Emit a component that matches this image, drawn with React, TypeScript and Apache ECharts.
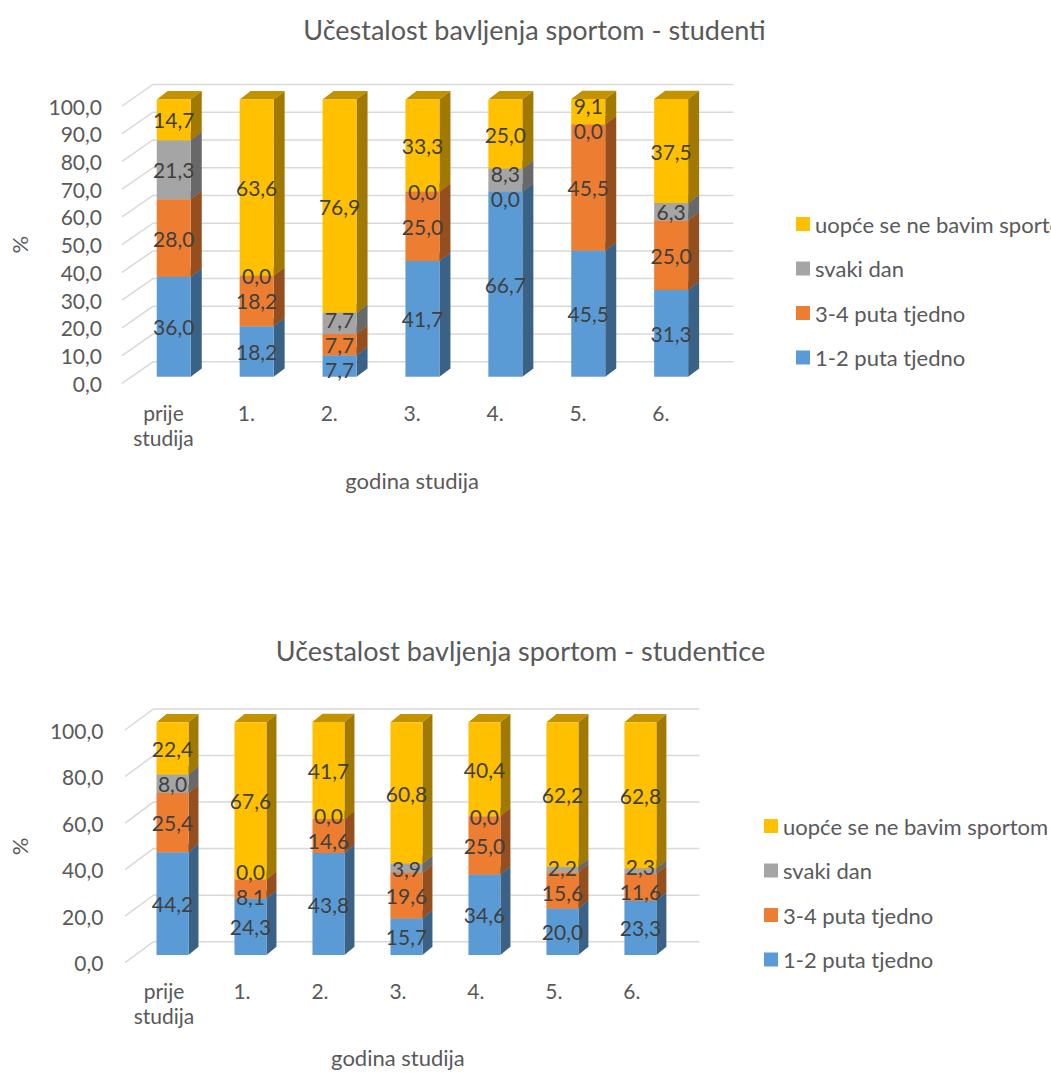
import React, { useEffect, useRef } from "react";
import * as echarts from "echarts";

const CATEGORIES = ["prije\nstudija", "1.", "2.", "3.", "4.", "5.", "6."];
const SERIES_NAMES = ["1-2 puta tjedno", "3-4 puta tjedno", "svaki dan", "uopće se ne bavim sportom"];
const COLORS = ["#5b9bd5", "#ed7d31", "#a5a5a5", "#ffc000"];

// studenti
const M_1_2 = [36.0, 18.2, 7.7, 41.7, 66.7, 45.5, 31.3];
const M_3_4 = [28.0, 18.2, 7.7, 25.0, 0.0, 45.5, 25.0];
const M_DAILY = [21.3, 0.0, 7.7, 0.0, 8.3, 0.0, 6.3];
const M_NONE = [14.7, 63.6, 76.9, 33.3, 25.0, 9.1, 37.5];

// studentice
const F_1_2 = [44.2, 24.3, 43.8, 15.7, 34.6, 20.0, 23.3];
const F_3_4 = [25.4, 8.1, 14.6, 19.6, 25.0, 15.6, 11.6];
const F_DAILY = [8.0, 0.0, 0.0, 3.9, 0.0, 2.2, 2.3];
const F_NONE = [22.4, 67.6, 41.7, 60.8, 40.4, 62.2, 62.8];

const TICKS_TOP = [0, 10, 20, 30, 40, 50, 60, 70, 80, 90, 100];
const TICKS_BOTTOM = [0, 20, 40, 60, 80, 100];

const TITLE_TOP = "Učestalost bavljenja sportom - studenti";
const TITLE_BOTTOM = "Učestalost bavljenja sportom - studentice";
const X_NAME = "godina studija";
const Y_NAME = "%";

const FONT = "Lato, 'Noto Sans', sans-serif";
const TEXT_COLOR = "#595959";
const LABEL_COLOR = "#404040";

function fmt(v: number) {
  return Number(v).toFixed(1).replace(".", ",");
}

function shade(hex: string, f: number) {
  const n = parseInt(hex.slice(1), 16);
  const r = Math.round(((n >> 16) & 255) * f);
  const g = Math.round(((n >> 8) & 255) * f);
  const b = Math.round((n & 255) * f);
  return `rgb(${r},${g},${b})`;
}

type Geo = {
  barRatio: number;
  shiftX: number;
  shiftY: number;
  sideDx: number;
  sideDy: number;
  wallDx: number;
  wallDy: number;
};

const TOP_GEO: Geo = { barRatio: 0.41, shiftX: 10.3, shiftY: -6.6, sideDx: 11, sideDy: -8.3, wallDx: 31, wallDy: -21.5 };
const BOT_GEO: Geo = { barRatio: 0.41, shiftX: 8.5, shiftY: -7.7, sideDx: 10, sideDy: -8.3, wallDx: 28.5, wallDy: -21 };

function makeSeries(g: number, vals: number[][], ticks: number[], geo: Geo) {
  const series: any[] = [];
  series.push({
    type: "custom",
    name: "grid" + g,
    xAxisIndex: g,
    yAxisIndex: g,
    z: 1,
    silent: true,
    encode: { x: 0, y: 1 },
    data: ticks.map((t) => [0, t]),
    renderItem: (params: any, api: any) => {
      const cs = params.coordSys;
      const y = api.coord([0, api.value(1)])[1];
      const xl = cs.x;
      const xr = cs.x + cs.width;
      return {
        type: "polyline",
        shape: {
          points: [
            [xl, y],
            [xl + geo.wallDx, y + geo.wallDy],
            [xr + geo.wallDx, y + geo.wallDy],
          ],
        },
        style: { stroke: "#d9d9d9", lineWidth: 1.5, fill: null },
      };
    },
  });

  vals.forEach((arr, s) => {
    const data = arr.map((v, i) => {
      let base = 0;
      for (let k = 0; k < s; k++) base += vals[k][i];
      return [i, base, base + v, v];
    });
    const front = COLORS[s];
    const side = shade(COLORS[s], 0.63);
    const topc = shade(COLORS[s], 0.76);
    series.push({
      type: "custom",
      name: SERIES_NAMES[s],
      xAxisIndex: g,
      yAxisIndex: g,
      z: 2 + s,
      silent: true,
      itemStyle: { color: front },
      encode: { x: 0, y: [1, 2] },
      data,
      renderItem: (params: any, api: any) => {
        const cat = api.value(0);
        const b = api.value(1);
        const t = api.value(2);
        if (t - b <= 0) return { type: "group", children: [] };
        const band = api.size([1, 0])[0];
        const w = band * geo.barRatio;
        const pb = api.coord([cat, b]);
        const pt = api.coord([cat, t]);
        const x0 = pb[0] - w / 2 + geo.shiftX;
        const x1 = x0 + w;
        const yb = pb[1] + geo.shiftY;
        const yt = pt[1] + geo.shiftY;
        const dx = geo.sideDx;
        const dy = geo.sideDy;
        return {
          type: "group",
          children: [
            {
              type: "polygon",
              shape: { points: [[x0, yt], [x1, yt], [x1 + dx, yt + dy], [x0 + dx, yt + dy]] },
              style: { fill: topc },
            },
            {
              type: "polygon",
              shape: { points: [[x1, yb], [x1, yt], [x1 + dx, yt + dy], [x1 + dx, yb + dy]] },
              style: { fill: side },
            },
            {
              type: "rect",
              shape: { x: x0, y: yt, width: w, height: yb - yt },
              style: { fill: front },
            },
          ],
        };
      },
    });
  });

  series.push({
    type: "custom",
    name: "labels" + g,
    xAxisIndex: g,
    yAxisIndex: g,
    z: 20,
    silent: true,
    encode: { x: 0, y: 1 },
    data: CATEGORIES.map((_, i) => [i, 0]),
    renderItem: (params: any, api: any) => {
      const i = api.value(0);
      const cx = api.coord([i, 0])[0] + geo.shiftX;
      const ys: number[] = [];
      let base = 0;
      for (let s = 0; s < vals.length; s++) {
        const b = base;
        const t = base + vals[s][i];
        ys.push((api.coord([i, b])[1] + api.coord([i, t])[1]) / 2 + geo.shiftY);
        base = t;
      }
      const G = 25;
      for (let it = 0; it < 60; it++) {
        for (let j = 0; j < ys.length - 1; j++) {
          const gap = ys[j] - ys[j + 1];
          if (gap < G) {
            const d = (G - gap) / 2;
            ys[j] += d;
            ys[j + 1] -= d;
          }
        }
      }
      return {
        type: "group",
        children: ys.map((y, s) => ({
          type: "text",
          x: cx,
          y,
          style: {
            text: fmt(vals[s][i]),
            fill: LABEL_COLOR,
            fontSize: 21,
            fontFamily: FONT,
            align: "center",
            verticalAlign: "middle",
          },
        })),
      };
    },
  });
  return series;
}

export default function App() {
  const ref = useRef<HTMLDivElement>(null);
  useEffect(() => {
    if (!ref.current) return;
    const chart = echarts.init(ref.current, undefined, { renderer: "svg" });
    const legendNames = [...SERIES_NAMES].reverse();
    const axisLabel = { color: TEXT_COLOR, fontSize: 21, fontFamily: FONT };
    const nameStyle = { color: TEXT_COLOR, fontSize: 22, fontFamily: FONT };
    const option: any = {
      animation: false,
      backgroundColor: "#ffffff",
      title: [
        {
          text: TITLE_TOP,
          left: 529.5,
          top: 11,
          textAlign: "center",
          textStyle: { fontSize: 27, color: TEXT_COLOR, fontWeight: "normal", fontFamily: FONT },
        },
        {
          text: TITLE_BOTTOM,
          left: 515.5,
          top: 632,
          textAlign: "center",
          textStyle: { fontSize: 27, color: TEXT_COLOR, fontWeight: "normal", fontFamily: FONT },
        },
      ],
      legend: [
        {
          orient: "vertical",
          left: 791,
          top: 207,
          icon: "rect",
          itemWidth: 14,
          itemHeight: 14,
          itemGap: 20.5,
          selectedMode: false,
          data: legendNames,
          textStyle: { color: TEXT_COLOR, fontSize: 22, fontFamily: FONT, lineHeight: 24 },
        },
        {
          orient: "vertical",
          left: 759,
          top: 809,
          icon: "rect",
          itemWidth: 14,
          itemHeight: 14,
          itemGap: 20.5,
          selectedMode: false,
          data: legendNames,
          textStyle: { color: TEXT_COLOR, fontSize: 22, fontFamily: FONT, lineHeight: 24 },
        },
      ],
      grid: [
        { left: 118.3, top: 106, width: 584, height: 277.3 },
        { left: 123.5, top: 730, width: 547.4, height: 232.7 },
      ],
      xAxis: [0, 1].map((g) => ({
        type: "category",
        gridIndex: g,
        data: CATEGORIES,
        axisLine: { show: false },
        axisTick: { show: false },
        splitLine: { show: false },
        axisLabel: { ...axisLabel, margin: g === 0 ? 17 : 15, lineHeight: 25, interval: 0 },
        name: X_NAME,
        nameLocation: "middle",
        nameGap: g === 0 ? 86 : 84,
        nameTextStyle: nameStyle,
      })),
      yAxis: [0, 1].map((g) => ({
        type: "value",
        gridIndex: g,
        min: 0,
        max: 100,
        interval: g === 0 ? 10 : 20,
        axisLine: { show: false },
        axisTick: { show: false },
        splitLine: { show: false },
        axisLabel: { ...axisLabel, margin: g === 0 ? 20 : 21.6, formatter: (v: number) => fmt(v) },
        name: Y_NAME,
        nameLocation: "middle",
        nameGap: g === 0 ? 92 : 95,
        nameRotate: 90,
        nameTextStyle: nameStyle,
      })),
      series: [
        ...makeSeries(0, [M_1_2, M_3_4, M_DAILY, M_NONE], TICKS_TOP, TOP_GEO),
        ...makeSeries(1, [F_1_2, F_3_4, F_DAILY, F_NONE], TICKS_BOTTOM, BOT_GEO),
      ],
    };
    chart.setOption(option);
    return () => chart.dispose();
  }, []);
  return (
    <div
      ref={ref}
      style={{ position: "absolute", left: 0, top: 0, width: 1051, height: 1073, background: "#fff" }}
    />
  );
}
